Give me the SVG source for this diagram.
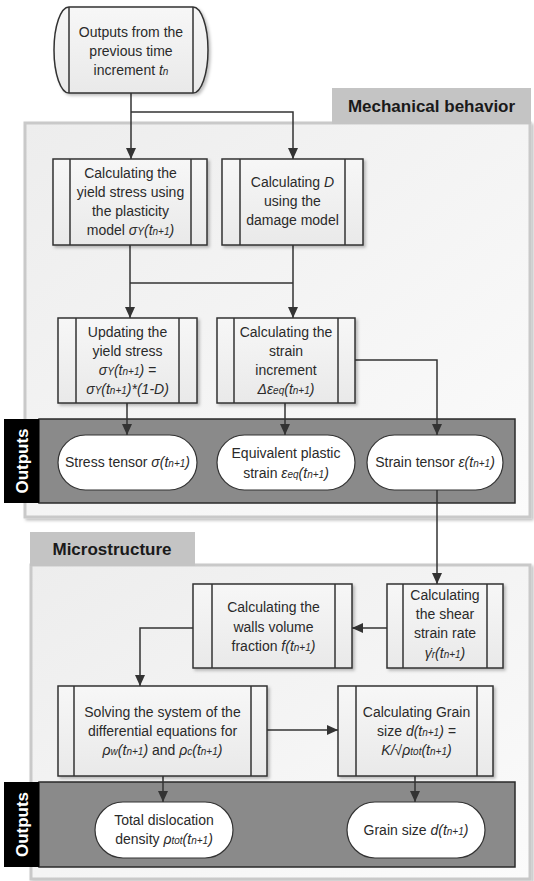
<svg xmlns="http://www.w3.org/2000/svg" width="534" height="881" viewBox="0 0 534 881">
<defs>
<linearGradient id="pg" x1="0" y1="0" x2="1" y2="1"><stop offset="0" stop-color="#ededed"/><stop offset="1" stop-color="#fbfbfb"/></linearGradient>
<linearGradient id="bg" x1="0" y1="0" x2="0" y2="1"><stop offset="0" stop-color="#f7f7f7"/><stop offset="1" stop-color="#e9e9e9"/></linearGradient>
<filter id="sh" x="-10%" y="-10%" width="130%" height="130%"><feDropShadow dx="2" dy="2" stdDeviation="1.5" flood-color="#000" flood-opacity="0.25"/></filter>
<marker id="ar" markerUnits="userSpaceOnUse" markerWidth="11" markerHeight="10" refX="11" refY="5" orient="auto"><path d="M0,0 L11,5 L0,10 Z" fill="#333"/></marker>
<style>
text{font-family:"Liberation Sans",Arial,sans-serif;font-size:14px;fill:#2a2a2a;text-anchor:middle}
.i{font-style:italic}
.sb{font-size:10px}
.tab{font-weight:bold;font-size:17px;fill:#1a1a1a}
.out{font-weight:bold;font-size:17px;fill:#fff}
.box{fill:url(#bg);stroke:#333;stroke-width:1.5;filter:url(#sh)}
.in{stroke:#333;stroke-width:1.5}
.ell{fill:#fff;stroke:#333;stroke-width:1.2}
.panel{fill:url(#pg);stroke:#c9c9c9;stroke-width:3;filter:url(#sh)}
.tabr{fill:#c4c4c4}
.band{fill:#8a8a8a;stroke:#2a2a2a;stroke-width:1.5}
.blk{fill:#000}
.c{fill:none;stroke:#333;stroke-width:1.5}
</style>
</defs>

<!-- panels -->
<g id="panel-mech">
<rect class="panel" x="25" y="123" width="505" height="394"/>
<rect class="tabr" x="332" y="88" width="199" height="36"/>
<text class="tab" x="431.5" y="112">Mechanical behavior</text>
</g>
<g id="panel-micro">
<rect class="panel" x="31" y="565" width="499" height="314"/>
<rect class="tabr" x="30" y="532" width="165" height="34"/>
<text class="tab" x="112" y="555">Microstructure</text>
</g>

<!-- output bands -->
<g id="outputs-1">
<rect class="band" x="39" y="419" width="476" height="84"/>
<rect class="blk" x="4" y="419" width="35" height="84"/>
<text class="out" transform="translate(28,461) rotate(-90)">Outputs</text>
</g>
<g id="outputs-2">
<rect class="band" x="39" y="782" width="476" height="85"/>
<rect class="blk" x="4" y="782" width="35" height="85"/>
<text class="out" transform="translate(28,824.5) rotate(-90)">Outputs</text>
</g>

<!-- connectors -->
<g id="connectors">
<path class="c" d="M131,93 V159" marker-end="url(#ar)"/>
<path class="c" d="M131,112 H293 V159" marker-end="url(#ar)"/>
<path class="c" d="M130,245 V318" marker-end="url(#ar)"/>
<path class="c" d="M130,283 H293"/>
<path class="c" d="M293,245 V318" marker-end="url(#ar)"/>
<path class="c" d="M127,403 V435" marker-end="url(#ar)"/>
<path class="c" d="M285,403 V435" marker-end="url(#ar)"/>
<path class="c" d="M355,360 H437 V435" marker-end="url(#ar)"/>
<path class="c" d="M437,490 V584" marker-end="url(#ar)"/>
<path class="c" d="M387,628 H352" marker-end="url(#ar)"/>
<path class="c" d="M193,628 H140 V686" marker-end="url(#ar)"/>
<path class="c" d="M267,730 H338" marker-end="url(#ar)"/>
<path class="c" d="M163,776 V802" marker-end="url(#ar)"/>
<path class="c" d="M415,776 V802" marker-end="url(#ar)"/>
</g>

<!-- start -->
<g id="start">
<path class="box" d="M69,7 H193 A15,43 0 0 1 193,93 H69 A15,43 0 0 1 69,7 Z"/>
<line class="in" x1="69" y1="7" x2="69" y2="93"/>
<line class="in" x1="193" y1="7" x2="193" y2="93"/>
<text x="131" y="37">Outputs from the</text>
<text x="131" y="56">previous time</text>
<text x="131" y="75">increment <tspan class="i">t<tspan class="sb">n</tspan></tspan></text>
</g>

<g id="yield">
<rect class="box" x="53" y="159" width="154" height="86"/>
<line class="in" x1="70" y1="159" x2="70" y2="245"/>
<line class="in" x1="191" y1="159" x2="191" y2="245"/>
<text x="130.5" y="178">Calculating the</text>
<text x="130.5" y="197">yield stress using</text>
<text x="130.5" y="216">the plasticity</text>
<text x="130.5" y="235">model <tspan class="i">σ<tspan class="sb">Y</tspan>(t<tspan class="sb">n+1</tspan>)</tspan></text>
</g>

<g id="damage">
<rect class="box" x="222" y="159" width="141" height="86"/>
<line class="in" x1="240" y1="159" x2="240" y2="245"/>
<line class="in" x1="345" y1="159" x2="345" y2="245"/>
<text x="292.5" y="187">Calculating <tspan class="i">D</tspan></text>
<text x="292.5" y="206">using the</text>
<text x="292.5" y="225">damage model</text>
</g>

<g id="update">
<rect class="box" x="58" y="318" width="139" height="85"/>
<line class="in" x1="76" y1="318" x2="76" y2="403"/>
<line class="in" x1="179" y1="318" x2="179" y2="403"/>
<text x="127.5" y="337">Updating the</text>
<text x="127.5" y="356">yield stress</text>
<text x="127.5" y="375" class="i">σ<tspan class="sb">Y</tspan>(t<tspan class="sb">n+1</tspan>) =</text>
<text x="127.5" y="394" class="i">σ<tspan class="sb">Y</tspan>(t<tspan class="sb">n+1</tspan>)*(1-D)</text>
</g>

<g id="strain-inc">
<rect class="box" x="217" y="318" width="138" height="85"/>
<line class="in" x1="234" y1="318" x2="234" y2="403"/>
<line class="in" x1="338" y1="318" x2="338" y2="403"/>
<text x="286" y="337">Calculating the</text>
<text x="286" y="356">strain</text>
<text x="286" y="375">increment</text>
<text x="286" y="394" class="i">Δε<tspan class="sb">eq</tspan>(t<tspan class="sb">n+1</tspan>)</text>
</g>

<g id="out-stress">
<rect class="ell" x="58" y="435" width="139" height="55" rx="27.5"/>
<text x="127.5" y="467">Stress tensor <tspan class="i">σ(t<tspan class="sb">n+1</tspan>)</tspan></text>
</g>
<g id="out-eq">
<rect class="ell" x="217" y="435" width="138" height="55" rx="27.5"/>
<text x="286" y="458">Equivalent plastic</text>
<text x="286" y="478">strain  <tspan class="i">ε<tspan class="sb">eq</tspan>(t<tspan class="sb">n+1</tspan>)</tspan></text>
</g>
<g id="out-strain">
<rect class="ell" x="367" y="435" width="136" height="55" rx="27.5"/>
<text x="435" y="467">Strain tensor <tspan class="i">ε(t<tspan class="sb">n+1</tspan>)</tspan></text>
</g>

<g id="walls">
<rect class="box" x="193" y="584" width="159" height="84"/>
<line class="in" x1="212" y1="584" x2="212" y2="668"/>
<line class="in" x1="335" y1="584" x2="335" y2="668"/>
<text x="273.5" y="612">Calculating the</text>
<text x="273.5" y="632">walls volume</text>
<text x="273.5" y="651">fraction <tspan class="i">f(t<tspan class="sb">n+1</tspan>)</tspan></text>
</g>

<g id="shear">
<rect class="box" x="387" y="584" width="116" height="84"/>
<line class="in" x1="403" y1="584" x2="403" y2="668"/>
<line class="in" x1="487" y1="584" x2="487" y2="668"/>
<text x="445" y="600">Calculating</text>
<text x="445" y="619">the shear</text>
<text x="445" y="638">strain rate</text>
<text x="445" y="658" class="i">γ̇<tspan class="sb">r</tspan>(t<tspan class="sb">n+1</tspan>)</text>
</g>

<g id="solving">
<rect class="box" x="58" y="686" width="209" height="90"/>
<line class="in" x1="74" y1="686" x2="74" y2="776"/>
<line class="in" x1="251" y1="686" x2="251" y2="776"/>
<text x="162.5" y="717">Solving the system of the</text>
<text x="162.5" y="736">differential equations for</text>
<text x="162.5" y="755"><tspan class="i">ρ<tspan class="sb">w</tspan>(t<tspan class="sb">n+1</tspan>)</tspan> and <tspan class="i">ρ<tspan class="sb">c</tspan>(t<tspan class="sb">n+1</tspan>)</tspan></text>
</g>

<g id="grain">
<rect class="box" x="338" y="686" width="155" height="90"/>
<line class="in" x1="356" y1="686" x2="356" y2="776"/>
<line class="in" x1="477" y1="686" x2="477" y2="776"/>
<text x="416.5" y="717">Calculating Grain</text>
<text x="416.5" y="736">size <tspan class="i">d(t<tspan class="sb">n+1</tspan>) =</tspan></text>
<text x="416.5" y="755" class="i">K/√ρ<tspan class="sb">tot</tspan>(t<tspan class="sb">n+1</tspan>)</text>
</g>

<g id="out-density">
<rect class="ell" x="95" y="802" width="138" height="56" rx="28"/>
<text x="164" y="825">Total dislocation</text>
<text x="164" y="844">density <tspan class="i">ρ<tspan class="sb">tot</tspan>(t<tspan class="sb">n+1</tspan>)</tspan></text>
</g>
<g id="out-grain">
<rect class="ell" x="347" y="802" width="138" height="56" rx="28"/>
<text x="416" y="835">Grain size <tspan class="i">d(t<tspan class="sb">n+1</tspan>)</tspan></text>
</g>
</svg>
